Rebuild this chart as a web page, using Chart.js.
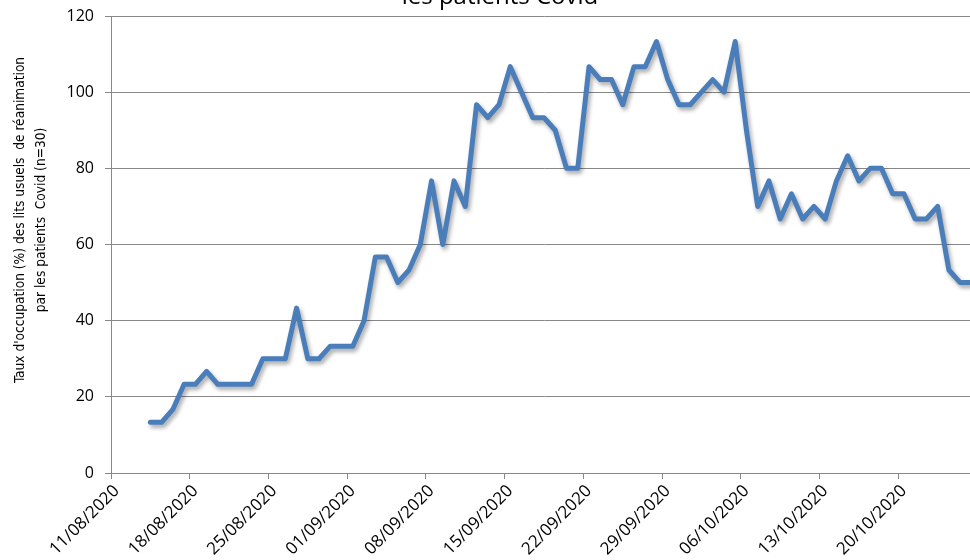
<!DOCTYPE html>
<html>
<head>
<meta charset="utf-8">
<script src="https://cdn.jsdelivr.net/npm/chart.js@4.4.0/dist/chart.umd.min.js"></script>
<style>
html,body{margin:0;padding:0;background:#fff;overflow:hidden;width:970px;height:560px}
#wrap{position:absolute;left:0;top:0;width:977px;height:560px}
</style>
</head>
<body>
<div id="wrap"><canvas id="c"></canvas></div>
<script>
// ---- data ----
const chartTitle = 'les patients Covid';
const yTitleLines = ["Taux d'occupation (%) des lits usuels  de réanimation", "par les patients  Covid (n=30)"];
const tickLabels = ['11/08/2020','18/08/2020','25/08/2020','01/09/2020','08/09/2020','15/09/2020',
                    '22/09/2020','29/09/2020','06/10/2020','13/10/2020','20/10/2020'];
const tickEvery = 7;
const startDay = [2020, 7, 11];   // 11/08/2020
const dayCount = 77;              // 11/08/2020 .. 26/10/2020
const occupancy = [
  null, null, null,
  13.3, 13.3, 16.7, 23.3, 23.3, 26.7, 23.3,
  23.3, 23.3, 23.3, 30, 30, 30, 43.3,
  30, 30, 33.3, 33.3, 33.3, 40, 56.7,
  56.7, 50, 53.3, 60, 76.7, 60, 76.7,
  70, 96.7, 93.3, 96.7, 106.7, 100, 93.3,
  93.3, 90, 80, 80, 106.7, 103.3, 103.3,
  96.7, 106.7, 106.7, 113.3, 103.3, 96.7, 96.7,
  100, 103.3, 100, 113.3, 90, 70, 76.7,
  66.7, 73.3, 66.7, 70, 66.7, 76.7, 83.3,
  76.7, 80, 80, 73.3, 73.3, 66.7, 66.7,
  70, 53.3, 50, 50
];
const yMin = 0, yMax = 120, yStep = 20;

// category labels (one per day)
const days = [];
for (let i = 0; i < dayCount; i++) {
  const d = new Date(startDay[0], startDay[1], startDay[2] + i);
  days.push(String(d.getDate()).padStart(2,'0') + '/' + String(d.getMonth()+1).padStart(2,'0') + '/' + d.getFullYear());
}

// ---- styles ----
const gridColor = '#878787';
const lineColor = '#4a7ebb';

const shadowPlugin = {
  id: 'shadow',
  beforeDatasetDraw(chart) {
    const ctx = chart.ctx; ctx.save();
    ctx.shadowColor = 'rgba(0,0,0,0.35)';
    ctx.shadowBlur = 4; ctx.shadowOffsetX = 2; ctx.shadowOffsetY = 3;
  },
  afterDatasetDraw(chart) { chart.ctx.restore(); }
};

const textPlugin = {
  id: 'texts',
  afterDraw(chart) {
    const ctx = chart.ctx;
    ctx.save();
    ctx.fillStyle = '#000';
    ctx.font = '24px "Open Sans", sans-serif';
    ctx.textAlign = 'center';
    ctx.textBaseline = 'alphabetic';
    ctx.fillText(chartTitle, 500, 4);
    ctx.restore();

    ctx.save();
    ctx.fillStyle = '#000';
    ctx.font = '13.6px "Liberation Sans Narrow", "DejaVu Sans Condensed", sans-serif';
    ctx.textAlign = 'center';
    ctx.textBaseline = 'middle';
    ctx.translate(20, 220);
    ctx.rotate(-Math.PI / 2);
    yTitleLines.forEach((t, i) => ctx.fillText(t, 0, i * 21));
    ctx.restore();
  }
};

new Chart(document.getElementById('c'), {
  type: 'line',
  data: {
    labels: days,
    datasets: [{
      data: occupancy,
      borderColor: lineColor,
      borderWidth: 5,
      borderJoinStyle: 'round',
      borderCapStyle: 'round',
      pointRadius: 0,
      pointHoverRadius: 0,
      tension: 0,
      fill: false,
      spanGaps: false
    }]
  },
  options: {
    responsive: true,
    maintainAspectRatio: false,
    animation: false,
    events: [],
    layout: { padding: { left: 0, right: 0, top: 16, bottom: 0 } },
    plugins: { legend: { display: false }, tooltip: { enabled: false }, title: { display: false } },
    scales: {
      x: {
        type: 'category',
        offset: true,
        grid: {
          offset: true,
          drawOnChartArea: false,
          drawTicks: true,
          tickLength: 6,
          tickColor: (ctx) => (ctx.index % tickEvery === 0 ? gridColor : 'rgba(0,0,0,0)'),
          lineWidth: 1
        },
        border: { color: gridColor, width: 1 },
        ticks: {
          autoSkip: false,
          minRotation: 45,
          maxRotation: 45,
          padding: 2,
          color: '#000',
          font: { family: '"Open Sans", sans-serif', size: 17 },
          callback: (v, i) => (i % tickEvery === 0 ? tickLabels[i / tickEvery] : '')
        },
        afterFit: (s) => { s.height = 87; s.paddingLeft = 0; s.paddingRight = 0; }
      },
      y: {
        min: yMin, max: yMax,
        ticks: {
          stepSize: yStep,
          padding: 11,
          color: '#000',
          font: { family: '"Open Sans", sans-serif', size: 16 }
        },
        grid: { color: gridColor, lineWidth: 1, drawTicks: true, tickLength: 6, tickColor: gridColor },
        border: { color: gridColor, width: 1 },
        afterFit: (s) => { s.width = 111; s.paddingTop = 0; s.paddingBottom = 0; }
      }
    }
  },
  plugins: [shadowPlugin, textPlugin]
});
</script>
</body>
</html>
